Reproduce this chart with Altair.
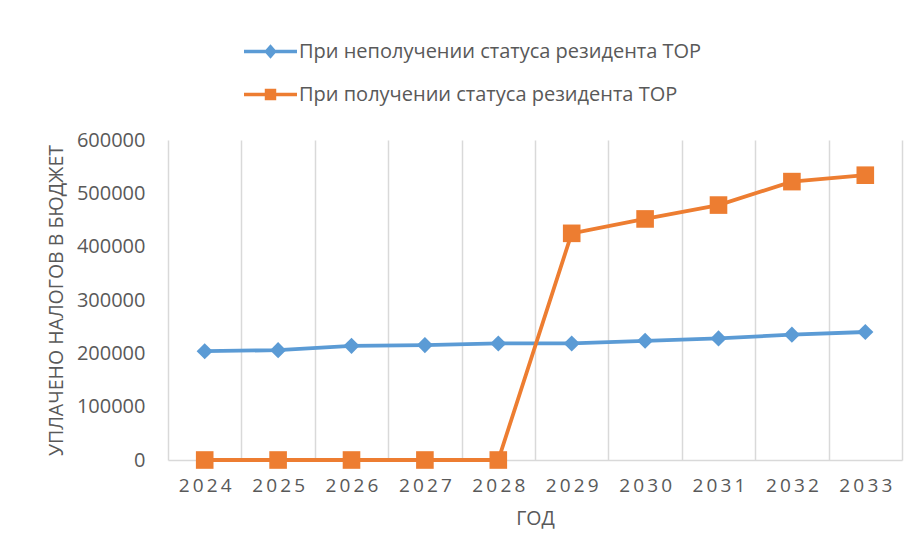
import altair as alt
import pandas as pd

years = ["2024", "2025", "2026", "2027", "2028", "2029", "2030", "2031", "2032", "2033"]
series_names = ["При неполучении статуса резидента ТОР", "При получении статуса резидента ТОР"]
without_status = [204000, 206000, 214000, 215500, 218500, 218500, 223500, 228000, 235000, 240000]
with_status = [0, 0, 0, 0, 0, 425000, 452000, 478000, 522000, 534000]
y_ticks = [0, 100000, 200000, 300000, 400000, 500000, 600000]

rows = []
for i, y in enumerate(years):
    rows.append({"year": y, "series": series_names[0], "value": without_status[i]})
    rows.append({"year": y, "series": series_names[1], "value": with_status[i]})
df = pd.DataFrame(rows)

FONT = "Open Sans"
GREY = "#595959"
BLUE = "#5B9BD5"
ORANGE = "#ED7D31"

diamond_sym = "M-1,0L1,0M0,-0.17L0.15,0L0,0.17L-0.15,0Z"
square_sym = "M-1,0L1,0M-0.15,-0.15L0.15,-0.15L0.15,0.15L-0.15,0.15Z"

x_enc = alt.X(
    "year:N",
    sort=years,
    scale=alt.Scale(type="band", paddingInner=0, paddingOuter=0),
    axis=alt.Axis(
        title="ГОД",
        labelAngle=0,
        labelFontSize=19,
        labelColor=GREY,
        labelFont=FONT,
        labelPadding=16,
        labelExpr="join(split(datum.label, ''), '\u2009')",
        titleFontSize=19.5,
        titleFont=FONT,
        titleColor=GREY,
        titleFontWeight="normal",
        titlePadding=14,
        domainColor="#D9D9D9",
        domainWidth=1.5,
        grid=True,
        gridColor="#D9D9D9",
        gridWidth=1.5,
        ticks=False,
        tickBand="extent",
    ),
)
y_enc = alt.Y(
    "value:Q",
    scale=alt.Scale(domain=[0, 600000]),
    axis=alt.Axis(
        title="УПЛАЧЕНО НАЛОГОВ В БЮДЖЕТ",
        values=y_ticks,
        format="d",
        grid=False,
        domain=False,
        ticks=False,
        labelFontSize=20,
        labelColor=GREY,
        labelFont=FONT,
        labelPadding=23,
        titleFontSize=19.5,
        titleFont=FONT,
        titleColor=GREY,
        titleFontWeight="normal",
        titlePadding=10,
    ),
)
color_expr = f"datum.index === 0 ? '{BLUE}' : '{ORANGE}'"
color_scale = alt.Scale(domain=series_names, range=[BLUE, ORANGE])
color_enc = alt.Color(
    "series:N",
    sort=series_names,
    scale=color_scale,
    legend=alt.Legend(
        title=None,
        orient="none",
        legendX=74,
        legendY=-117,
        direction="vertical",
        labelFontSize=20,
        labelFont=FONT,
        labelColor=GREY,
        labelOffset=0,
        labelLimit=600,
        rowPadding=2,
        padding=0,
        symbolSize=2809,
        symbolType=alt.ExprRef(expr=f"datum.index === 0 ? '{diamond_sym}' : '{square_sym}'"),
        symbolFillColor=alt.ExprRef(expr=color_expr),
        symbolStrokeColor=alt.ExprRef(expr=color_expr),
        symbolStrokeWidth=3.5,
        symbolOpacity=1,
    ),
)

base = alt.Chart(df)
lines = base.mark_line(strokeWidth=3.8).encode(x=x_enc, y=y_enc, color=color_enc)
pts_color = alt.Color("series:N", scale=color_scale, legend=None)
diamonds = (
    base.transform_filter(alt.datum.series == series_names[0])
    .mark_point(filled=True, opacity=1, shape="diamond", size=260)
    .encode(x=x_enc, y=y_enc, color=pts_color)
)
squares = (
    base.transform_filter(alt.datum.series == series_names[1])
    .mark_point(filled=True, opacity=1, shape="square", size=310)
    .encode(x=x_enc, y=y_enc, color=pts_color)
)

chart = (
    alt.layer(lines, diamonds, squares)
    .properties(
        width=734,
        height=320,
        autosize=alt.AutoSizeParams(type="none"),
        padding={"left": 160, "top": 132, "right": 8, "bottom": 90},
        background="white",
    )
    .configure_view(stroke=None)
)

chart.save("out.html", embed_options={"renderer": "svg", "actions": False})
